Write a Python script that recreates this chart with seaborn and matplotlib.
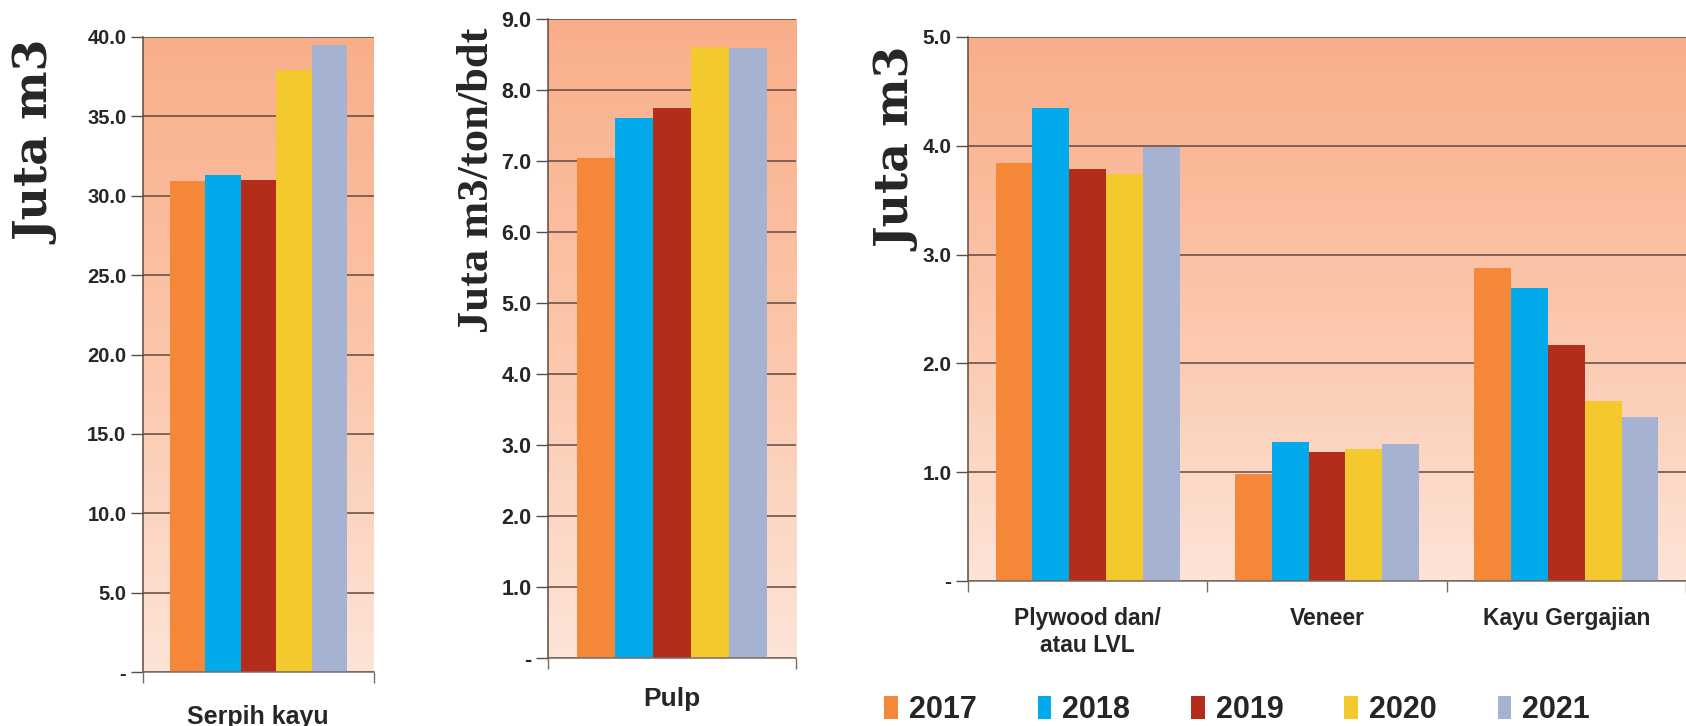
import numpy as np
import pandas as pd
import matplotlib
matplotlib.use("Agg")
import matplotlib.pyplot as plt
import seaborn as sns
from matplotlib import font_manager as fm
from matplotlib.patches import Patch
from matplotlib.colors import LinearSegmentedColormap

# ---------------- data ----------------
years = ["2017", "2018", "2019", "2020", "2021"]
colors = ["#F58838", "#00AAEB", "#B42D1A", "#F4C92E", "#A6B2D2"]

cat_chips = ["Serpih kayu"]
chips_values = [30.9, 31.3, 31.0, 37.9, 39.5]

cat_pulp = ["Pulp"]
pulp_values = [7.04, 7.60, 7.74, 8.61, 8.59]

cat_wood = ["Plywood dan/\natau LVL", "Veneer", "Kayu Gergajian"]
plywood_values = [3.84, 4.35, 3.79, 3.74, 3.99]
veneer_values = [0.98, 1.28, 1.19, 1.21, 1.26]
sawn_values = [2.88, 2.69, 2.17, 1.65, 1.51]

ticks_chips = [0, 5, 10, 15, 20, 25, 30, 35, 40]
ticks_pulp = [0, 1, 2, 3, 4, 5, 6, 7, 8, 9]
ticks_wood = [0, 1, 2, 3, 4, 5]

ylabel_chips = "Juta m3"
ylabel_pulp = "Juta m3/ton/bdt"
ylabel_wood = "Juta m3"

# ---------------- frames ----------------
df_chips = pd.DataFrame({"cat": cat_chips * len(years), "year": years, "val": chips_values})
df_pulp = pd.DataFrame({"cat": cat_pulp * len(years), "year": years, "val": pulp_values})
wood_rows = []
for c, vals in zip(cat_wood, [plywood_values, veneer_values, sawn_values]):
    for y, v in zip(years, vals):
        wood_rows.append({"cat": c, "year": y, "val": v})
df_wood = pd.DataFrame(wood_rows)

# ---------------- fonts ----------------
sns.set_style("white")
names = {f.name for f in fm.fontManager.ttflist}
narrow = "Liberation Sans Narrow" if "Liberation Sans Narrow" in names else "Liberation Sans"
plt.rcParams["font.family"] = ["Liberation Sans", "DejaVu Sans"]

grid_col = "#5e4a42"
bg_cmap = LinearSegmentedColormap.from_list("bg", ["#FDE4D8", "#FBC6AA", "#F9AE8A"])

fig = plt.figure(figsize=(16.86, 7.26), dpi=100)

def fmt(v):
    return "-" if v == 0 else f"{v:.1f}"

def make_panel(rect, df, cats, ticks, ymax, tick_font, tick_size, tick_weight):
    ax = fig.add_axes(rect)
    sns.barplot(data=df, x="cat", y="val", hue="year", order=cats, hue_order=years,
                palette=colors, saturation=1, width=0.77, gap=0, ax=ax,
                legend=False, errorbar=None, linewidth=0, zorder=2)
    grad = np.linspace(0, 1, 256).reshape(-1, 1)
    ax.imshow(grad, extent=[0, 1, 0, 1], transform=ax.transAxes, origin="lower",
              cmap=bg_cmap, aspect="auto", zorder=0)
    n = len(cats)
    ax.set_xlim(-0.5, n - 0.5)
    ax.set_ylim(0, ymax)
    ax.set_yticks(ticks)
    ax.set_yticklabels([fmt(t) for t in ticks], fontfamily=tick_font,
                       fontsize=tick_size, fontweight=tick_weight)
    ax.yaxis.grid(True, color=grid_col, lw=1.1, zorder=1)
    ax.set_axisbelow(True)
    # x ticks at category boundaries, labels at centres
    ax.set_xticks([i - 0.5 for i in range(n + 1)])
    ax.set_xticklabels([""] * (n + 1))
    ax.set_xticks(list(range(n)), minor=True)
    ax.tick_params(axis="y", direction="out", length=9, width=1, color=grid_col,
                   pad=3, left=True)
    ax.tick_params(axis="x", which="major", direction="out", length=8, width=1,
                   color="#7a6a64", bottom=True)
    ax.tick_params(axis="x", which="minor", length=0)
    ax.set_xlabel("")
    ax.set_ylabel("")
    for s in ["top", "right"]:
        ax.spines[s].set_visible(False)
    ax.spines["left"].set_color(grid_col)
    ax.spines["left"].set_linewidth(1.1)
    ax.spines["bottom"].set_color("#7a6a64")
    ax.spines["bottom"].set_linewidth(1.1)
    return ax

W, H = 1686.0, 726.0
def rect(l, r, t, b):
    return [l / W, 1 - b / H, (r - l) / W, (b - t) / H]

ax1 = make_panel(rect(143, 374, 37, 672), df_chips, cat_chips, ticks_chips, 40,
                 "Liberation Sans", 14.5, "bold")
ax2 = make_panel(rect(548, 796, 19, 658), df_pulp, cat_pulp, ticks_pulp, 9,
                 "Liberation Sans", 15.5, "bold")
ax3 = make_panel(rect(968, 1686, 37, 581), df_wood, cat_wood, ticks_wood, 5,
                 narrow, 15, "bold")

# category labels
fig.text(258 / W, 1 - 717 / H, cat_chips[0], ha="center", va="center",
         fontsize=18, fontweight="bold", family="Liberation Sans")
fig.text(672 / W, 1 - 699 / H, cat_pulp[0], ha="center", va="center",
         fontsize=19, fontweight="bold", family="Liberation Sans")
ax3.set_xticklabels(cat_wood, minor=True, fontfamily=narrow, fontsize=16.5,
                    fontweight="bold", linespacing=1.2)
ax3.tick_params(axis="x", which="minor", pad=19)

# y labels
fig.text(37 / W, 1 - 143 / H, ylabel_chips, rotation=90, ha="center", va="center",
         fontsize=33, fontweight="bold", family="DejaVu Serif")
fig.text(477 / W, 1 - 180 / H, ylabel_pulp, rotation=90, ha="center", va="center",
         fontsize=32, fontweight="bold", family="Liberation Serif")
fig.text(898 / W, 1 - 150 / H, ylabel_wood, rotation=90, ha="center", va="center",
         fontsize=33, fontweight="bold", family="DejaVu Serif")

# legend
handles = [Patch(facecolor=c, edgecolor="none", label=y) for c, y in zip(colors, years)]
fig.legend(handles=handles, loc="center", bbox_to_anchor=(1237 / W, 1 - 710 / H),
           ncol=5, frameon=False, handlelength=0.45, handleheight=0.8,
           handletextpad=0.35, columnspacing=2.0,
           prop={"family": narrow, "size": 22, "weight": "bold"})

fig.savefig("out.png", dpi=100)
